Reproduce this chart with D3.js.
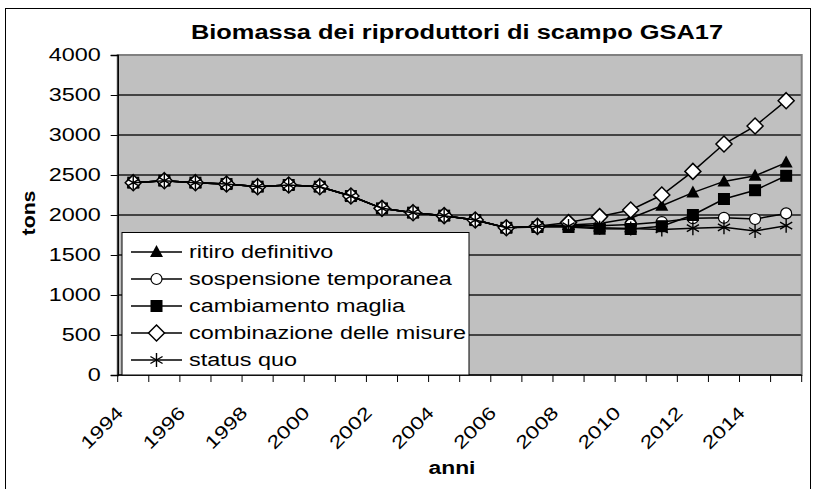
<!DOCTYPE html>
<html><head><meta charset="utf-8">
<script src="https://cdn.jsdelivr.net/npm/d3@7/dist/d3.min.js"></script>
<style>
body{margin:0;background:#fff;}
text{font-family:"Liberation Sans",Arial,sans-serif;fill:#000;}
</style></head>
<body>
<svg id="chart" width="817" height="489"></svg>
<script>
const title = "Biomassa dei riproduttori di scampo GSA17";
const xTitle = "anni";
const yTitle = "tons";
const years = d3.range(1994, 2016);
const xTickLabels = [1994,1996,1998,2000,2002,2004,2006,2008,2010,2012,2014];
const yTicks = [0,500,1000,1500,2000,2500,3000,3500,4000];
const seriesNames = ["ritiro definitivo","sospensione temporanea","cambiamento maglia","combinazione delle misure","status quo"];
const ritiro       = [2404,2429,2404,2387,2354,2375,2354,2237,2083,2029,1992,1937,1840,1858,1875,1895,1960,2115,2280,2420,2490,2655];
const sospensione  = [2404,2429,2404,2387,2354,2375,2354,2237,2083,2029,1992,1937,1840,1858,1870,1865,1880,1912,1960,1965,1950,2020];
const cambiamento  = [2404,2429,2404,2387,2354,2375,2354,2237,2083,2029,1992,1937,1840,1850,1850,1828,1825,1860,2000,2200,2310,2490];
const combinazione = [2404,2429,2404,2387,2354,2375,2354,2237,2083,2029,1992,1937,1840,1858,1905,1980,2063,2250,2545,2887,3112,3429];
const statusQuo    = [2404,2429,2404,2387,2354,2375,2354,2237,2083,2029,1992,1937,1840,1858,1862,1840,1830,1820,1835,1846,1800,1866];
const seriesValues = [ritiro, sospensione, cambiamento, combinazione, statusQuo];
const markerTypes = ["triangle","circle","square","diamond","star"];

const SX = 1.3;
function stretch(sel, f){
  sel.each(function(){
    const w = this.getComputedTextLength();
    d3.select(this).attr("textLength", w*(f||SX)).attr("lengthAdjust","spacingAndGlyphs");
  });
  return sel;
}

const svg = d3.select("#chart");
const L = 117.7, R = 801.7, T = 55, B = 375;

// outer frame
svg.append("rect").attr("x",5.5).attr("y",8.5).attr("width",805).attr("height",500)
  .attr("fill","#fff").attr("stroke","#000").attr("stroke-width",1);

const x = d3.scaleBand().domain(years).range([L, R]).padding(0);
const xc = d => x(d) + x.bandwidth()/2;
const y = d3.scaleLinear().domain([0,4000]).range([B, T]);

// plot area
svg.append("rect").attr("x",L).attr("y",T).attr("width",R-L).attr("height",B-T)
  .attr("fill","#c0c0c0");
// gridlines
svg.append("g").selectAll("line").data(yTicks.filter(v=>v>0 && v<4000)).join("line")
  .attr("x1",L).attr("x2",R).attr("y1",d=>y(d)).attr("y2",d=>y(d))
  .attr("stroke","#1a1a1a").attr("stroke-width",1.3);
svg.append("rect").attr("x",L).attr("y",T).attr("width",R-L).attr("height",B-T)
  .attr("fill","none").attr("stroke","#808080").attr("stroke-width",2);

// y axis
const yAxis = svg.append("g").attr("transform",`translate(${L},0)`)
  .call(d3.axisLeft(y).tickValues(yTicks).tickSize(7).tickPadding(10).tickFormat(d3.format("d")));
yAxis.select(".domain").attr("stroke","#000").attr("stroke-width",1.5);
yAxis.selectAll(".tick line").attr("stroke","#000");
yAxis.selectAll("text").attr("font-size",18).attr("font-family","Liberation Sans, Arial, sans-serif").attr("fill","#000");
stretch(yAxis.selectAll("text"));

// x axis: ticks at category boundaries
const xAxis = svg.append("g");
const bounds = years.map(d=>x(d)).concat([R]);
xAxis.append("line").attr("x1",L).attr("x2",R).attr("y1",B).attr("y2",B).attr("stroke","#000").attr("stroke-width",1.5);
xAxis.selectAll("line.tk").data(bounds).join("line").attr("class","tk")
  .attr("x1",d=>d).attr("x2",d=>d).attr("y1",B).attr("y2",B+7).attr("stroke","#000");
const xl = xAxis.selectAll("text").data(xTickLabels).join("text")
  .attr("transform",d=>`translate(${xc(d)-9},${414}) rotate(-45)`)
  .attr("text-anchor","end").attr("font-size",18).text(d=>d);
stretch(xl, 1.28);

// lines & markers
const line = d3.line().x((v,i)=>xc(years[i])).y(v=>y(v));
function drawMarker(g, type, cx, cy){
  if(type==="triangle"){
    g.append("path").attr("d",`M${cx},${cy-7}L${cx+6.5},${cy+5}L${cx-6.5},${cy+5}Z`).attr("fill","#000");
  } else if(type==="circle"){
    g.append("circle").attr("cx",cx).attr("cy",cy).attr("r",5.5).attr("fill","#fff").attr("stroke","#000").attr("stroke-width",1.2);
  } else if(type==="square"){
    g.append("rect").attr("x",cx-6).attr("y",cy-6).attr("width",12).attr("height",12).attr("fill","#000");
  } else if(type==="diamond"){
    g.append("path").attr("d",`M${cx},${cy-8}L${cx+8},${cy}L${cx},${cy+8}L${cx-8},${cy}Z`).attr("fill","#fff").attr("stroke","#000").attr("stroke-width",1.5);
  } else if(type==="star"){
    const r=7, a=r*0.866, b=r*0.5;
    g.append("path").attr("d",`M${cx},${cy-r}L${cx},${cy+r}M${cx-a},${cy-b}L${cx+a},${cy+b}M${cx-a},${cy+b}L${cx+a},${cy-b}`)
      .attr("stroke","#000").attr("stroke-width",1.4).attr("fill","none");
  }
}
seriesValues.forEach((vals,si)=>{
  const g = svg.append("g");
  g.append("path").attr("d",line(vals)).attr("fill","none").attr("stroke","#000").attr("stroke-width",1.5);
  vals.forEach((v,i)=>drawMarker(g, markerTypes[si], xc(years[i]), y(v)));
});

// legend
const lg = svg.append("g");
lg.append("rect").attr("x",122).attr("y",232.5).attr("width",347).attr("height",142.5)
  .attr("fill","#fff").attr("stroke","#000").attr("stroke-width",1);
seriesNames.forEach((name,i)=>{
  const ry = 252 + i*27;
  lg.append("line").attr("x1",131).attr("x2",182).attr("y1",ry).attr("y2",ry).attr("stroke","#000").attr("stroke-width",1.5);
  drawMarker(lg, markerTypes[i], 156.5, ry);
  const t = lg.append("text").attr("x",189).attr("y",ry).attr("dy","0.35em").attr("font-size",18).text(name);
  stretch(t);
});

// titles
const tt = svg.append("text").attr("x",457).attr("y",39).attr("text-anchor","middle")
  .attr("font-size",20).attr("font-weight","bold").text(title);
stretch(tt, 1.27);
const at = svg.append("text").attr("x",452).attr("y",474).attr("text-anchor","middle")
  .attr("font-size",18).attr("font-weight","bold").text(xTitle);
stretch(at, 1.27);
const yt = svg.append("text").attr("transform","translate(35,213) rotate(-90)").attr("text-anchor","middle")
  .attr("font-size",18).attr("font-weight","bold").text(yTitle);
stretch(yt, 1.18);
</script>
</body></html>
